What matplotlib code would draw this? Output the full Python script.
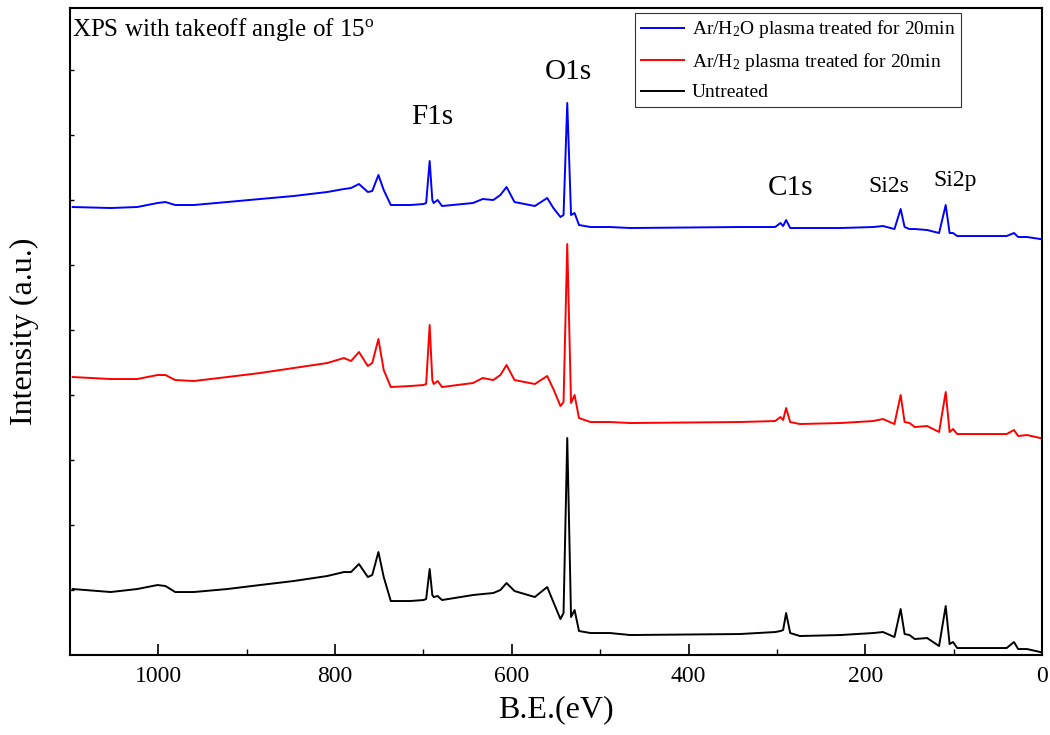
import pandas as pd
import matplotlib.pyplot as plt

plt.rcParams['font.family'] = ['Liberation Serif', 'DejaVu Serif']
plt.rcParams['mathtext.fontset'] = 'custom'
plt.rcParams['mathtext.rm'] = 'Liberation Serif'
plt.rcParams['mathtext.it'] = 'Liberation Serif:italic'

# binding energy grid (eV)
be = [1097, 1054, 1024, 1001, 992, 981, 960, 922, 885, 847,
      809, 790, 782, 773, 763, 758, 751, 745, 737, 715,
      700, 697, 693, 690, 688.5, 684, 679, 644, 633, 621,
      613, 606, 597, 574, 560, 553, 545, 541.5, 537.3, 533,
      529, 524, 511, 489, 466, 342, 302, 296, 293, 289.6,
      285, 274, 228, 191, 180, 167, 160, 155.5, 150, 144,
      130, 116.5, 109, 104.6, 100.7, 96, 40, 31.7, 27, 17, 2]

# intensities (a.u., offset spectra)
ar_h2o = [448, 447, 448, 452, 453, 450, 450, 453, 456, 459,
          463, 466, 467, 471, 463, 464, 480, 465, 450, 450,
          451, 452, 494, 455, 452, 455, 449, 452, 456, 455,
          460, 468, 453, 449, 457, 447, 438, 440, 552, 440,
          442, 430, 428, 428, 427, 428, 428, 432, 429, 435,
          427, 427, 427, 428, 429, 426, 446, 428, 426, 426,
          425, 422, 450, 422, 422, 419, 419, 422, 418, 418, 416]

ar_h2 = [278, 276, 276, 280, 280, 275, 274, 278, 282, 287,
         292, 297, 294, 303, 289, 292, 316, 285, 268, 269,
         270, 271, 330, 275, 271, 274, 268, 272, 277, 275,
         280, 290, 275, 271, 279, 266, 249, 253, 411, 252,
         260, 237, 233, 233, 232, 233, 234, 238, 235, 247,
         233, 231, 232, 234, 236, 231, 260, 233, 232, 228,
         229, 223, 263, 223, 226, 221, 221, 225, 219, 220, 217]

untreated = [66, 63, 66, 70, 69, 63, 63, 66, 70, 74,
             79, 83, 83, 91, 78, 80, 103, 78, 54, 54,
             55, 56, 86, 60, 58, 59, 55, 60, 61, 62,
             65, 72, 64, 58, 68, 53, 36, 42, 217, 38,
             45, 24, 22, 22, 20, 21, 23, 24, 25, 42,
             22, 19, 20, 22, 23, 18, 46, 21, 20, 16,
             17, 9, 49, 11, 13, 7, 7, 13, 6, 6, 3]

xticks = [1000, 800, 600, 400, 200, 0]
xticklabels = ['1000', '800', '600', '400', '200', '0']

labels = ['Ar/H$_2$O plasma treated for 20min',
          'Ar/H$_2$ plasma treated for 20min',
          'Untreated']
colors = ['#0000ff', '#ff0000', '#000000']

data = pd.DataFrame({'BE': be, 'h2o': ar_h2o, 'h2': ar_h2, 'untreated': untreated})

fig = plt.figure(figsize=(10.5, 7.35), dpi=100)
ax = fig.add_axes([0.0667, 0.1088, 0.9257, 0.8803])

for col, lab, c in zip(['h2o', 'h2', 'untreated'], labels, colors):
    ax.plot('BE', col, data=data, color=c, lw=1.4, label=lab)

ax.set_xlim(1100, 0)
ax.set_ylim(0, 647)
ax.set_xticks(xticks)
ax.set_xticklabels(xticklabels, fontfamily='Liberation Serif', fontsize=17)
ax.set_xticks(range(900, 0, -200), minor=True)
ax.set_yticks(range(65, 647, 65))
ax.set_yticklabels([])
ax.tick_params(axis='x', which='major', direction='in', length=8, width=1.2, pad=8)
ax.tick_params(axis='x', which='minor', direction='in', length=4, width=1.0)
ax.tick_params(axis='y', direction='in', length=3, width=1.0)
for s in ax.spines.values():
    s.set_linewidth(1.5)

ax.set_xlabel('B.E.(eV)', fontsize=23, labelpad=6)
ax.set_ylabel('Intensity (a.u.)', fontsize=23, labelpad=19)

ax.text(0.002, 0.988, 'XPS with takeoff angle of 15$^\\mathrm{o}$', transform=ax.transAxes,
        fontsize=18, va='top', ha='left')

ax.text(536, 583, 'O1s', fontsize=21, ha='center', va='center')
ax.text(690, 538, 'F1s', fontsize=21, ha='center', va='center')
ax.text(285, 467, 'C1s', fontsize=21, ha='center', va='center')
ax.text(173, 469, 'Si2s', fontsize=17, ha='center', va='center')
ax.text(98, 475, 'Si2p', fontsize=17, ha='center', va='center')

leg = ax.legend(loc='upper right', bbox_to_anchor=(0.917, 0.993), borderaxespad=0,
                fontsize=14, frameon=True, fancybox=False, handlelength=2.2,
                labelspacing=0.55, borderpad=0.3, handletextpad=0.4)
leg.get_frame().set_edgecolor('black')
leg.get_frame().set_linewidth(0.8)

fig.savefig('out.png', dpi=100)
